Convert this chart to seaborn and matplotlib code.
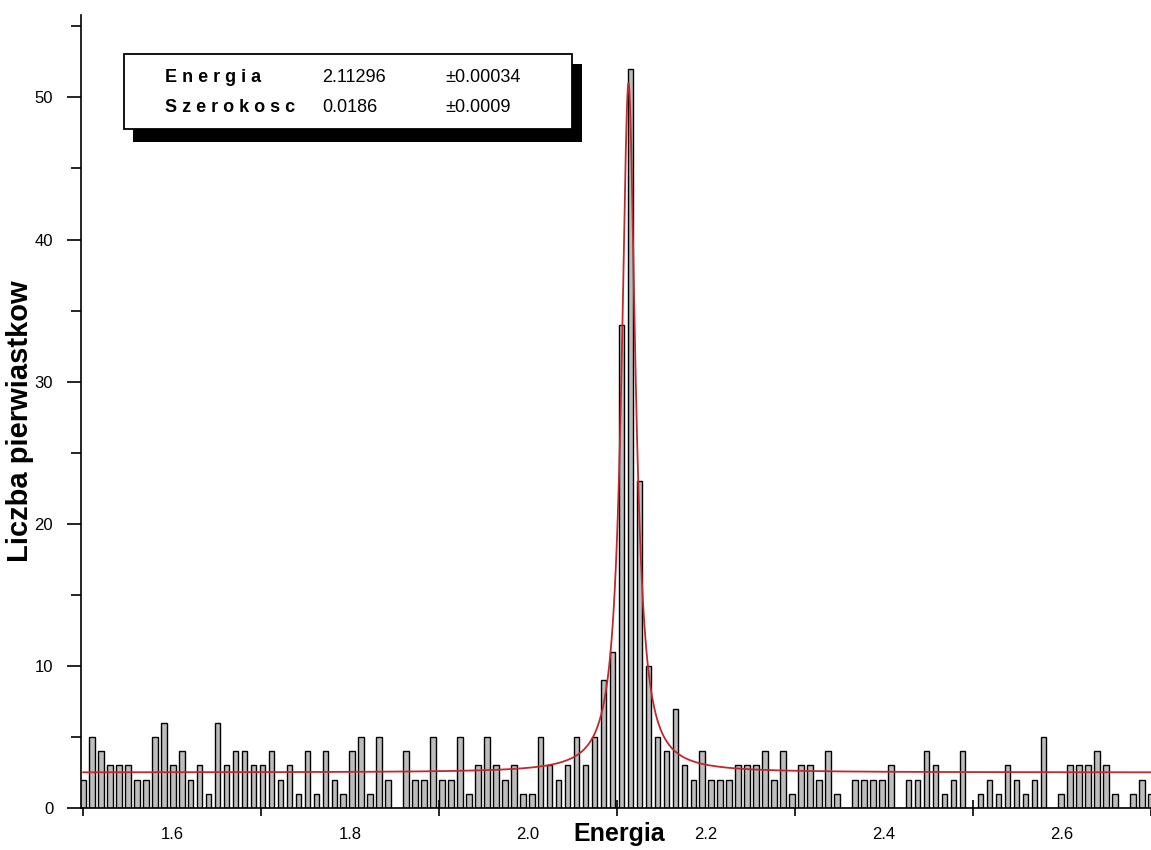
import numpy as np
import pandas as pd
import matplotlib
matplotlib.use("Agg")
import matplotlib.pyplot as plt
from matplotlib.patches import Rectangle
import seaborn as sns

# ---------------- data ----------------
bin_first = 1.5
bin_last = 2.7
counts = [2, 5, 4, 3, 3, 3, 2, 2, 5, 6, 3, 4, 2, 3, 1, 6, 3, 4, 4, 3, 3, 4, 2, 3, 1, 4, 1,
          4, 2, 1, 4, 5, 1, 5, 2, 0, 4, 2, 2, 5, 2, 2, 5, 1, 3, 5, 3, 2, 3, 1, 1, 5, 3, 2, 3, 5,
          3, 5, 9, 11, 34, 52, 23, 10, 5, 4, 7,
          3, 2, 4, 2, 2, 2, 3, 3, 3, 4, 2, 4, 1, 3, 3, 2, 4, 1, 0, 2, 2, 2, 2, 3, 0, 2, 2, 4, 3,
          1, 2, 4, 0, 1, 2, 1, 3, 2, 1, 2, 5, 0, 1, 3, 3, 3, 4, 3, 1, 0, 1, 2, 1]
energy = np.linspace(bin_first, bin_last, len(counts))

# Lorentz fit (parameters shown in the box)
fit_center = 2.11296
fit_center_err = 0.00034
fit_width = 0.0186
fit_width_err = 0.0009
fit_baseline = 2.5
fit_peak = 51.0

x_ticks = [1.5, 1.7, 1.9, 2.1, 2.3, 2.5, 2.7]
x_label_pos = [1.6, 1.8, 2.0, 2.2, 2.4, 2.6]
x_label_txt = ["1.6", "1.8", "2.0", "2.2", "2.4", "2.6"]
y_major = [0, 10, 20, 30, 40, 50]
y_minor = [5, 15, 25, 35, 45, 55]

# ---------------- figure ----------------
sns.set_theme(style="white")
plt.rcParams['font.family'] = ['Liberation Sans', 'DejaVu Sans']
plt.rcParams['text.color'] = 'black'
plt.rcParams['axes.labelcolor'] = 'black'
plt.rcParams['xtick.color'] = 'black'
plt.rcParams['ytick.color'] = 'black'

W, H = 1151, 850
fig = plt.figure(figsize=(W / 100, H / 100), dpi=100)
ax = fig.add_axes([81 / W, 1 - 808 / H, (1151 - 81) / W, (808 - 15) / H])

df = pd.DataFrame({"Energia": energy, "count": counts})
sns.barplot(data=df, x="Energia", y="count", native_scale=True, width=0.62,
            color="#bdbdbd", saturation=1, edgecolor="black", linewidth=1.0, ax=ax)

cx = np.linspace(bin_first, bin_last, 2000)
hw = fit_width / 2
cy = fit_baseline + (fit_peak - fit_baseline) * hw ** 2 / ((cx - fit_center) ** 2 + hw ** 2)
sns.lineplot(x=cx, y=cy, color="#c0282d", linewidth=1.3, ax=ax)

ax.set_xlim(1.5 - 2 / 891, 1.5 + 1070 / 891 - 2 / 891)
ax.set_ylim(0, 55.8)

for s in ["top", "right"]:
    ax.spines[s].set_visible(False)
for s in ["left", "bottom"]:
    ax.spines[s].set_color("black")
    ax.spines[s].set_linewidth(1.2)

ax.set_xticks(x_ticks)
ax.set_xticklabels([""] * len(x_ticks))
ax.set_xticks(x_label_pos, minor=True)
ax.set_xticklabels(x_label_txt, minor=True, fontsize=12)
ax.tick_params(axis="x", which="major", bottom=True, direction="inout", length=12, width=1.2, color="black")
ax.tick_params(axis="x", which="minor", bottom=True, length=0, pad=14, labelcolor="black")

ax.set_yticks(y_major)
ax.set_yticklabels([str(v) for v in y_major], fontsize=12)
ax.set_yticks(y_minor, minor=True)
ax.tick_params(axis="y", which="major", left=True, direction="out", length=10, width=1.2, color="black", pad=10, labelcolor="black")
ax.tick_params(axis="y", which="minor", left=True, direction="out", length=7, width=1.2, color="black")

ax.set_xlabel("Energia", fontsize=18, fontweight="bold", color="black")
ax.xaxis.set_label_coords((619 - 81) / 1070, (808 - 822) / 793)
ax.xaxis.label.set_va("top")
ax.set_ylabel("Liczba pierwiastkow", fontsize=21, fontweight="bold", color="black")
ax.yaxis.set_label_coords((20 - 81) / 1070, (808 - 421) / 793)
ax.yaxis.label.set_va("center")

# ---------------- parameter box ----------------
def fx(px):
    return px / W

def fy(py):
    return 1 - py / H

fig.patches.append(Rectangle((fx(133), fy(142)), fx(582) - fx(133), fy(64) - fy(142),
                             transform=fig.transFigure, facecolor="black", edgecolor="none", zorder=5))
fig.patches.append(Rectangle((fx(124), fy(129)), fx(572) - fx(124), fy(54) - fy(129),
                             transform=fig.transFigure, facecolor="white", edgecolor="black",
                             linewidth=1.3, zorder=6))

rows = [("E n e r g i a", f"{fit_center:.5f}", f"±{fit_center_err:.5f}", 77),
        ("S z e r o k o s c", f"{fit_width:.4f}", f"±{fit_width_err:.4f}", 108)]
for name, val, err, yy in rows:
    fig.text(fx(165), fy(yy), name, fontsize=13, fontweight="bold", va="center", ha="left", zorder=7)
    fig.text(fx(322), fy(yy), val, fontsize=13, va="center", ha="left", zorder=7)
    fig.text(fx(445), fy(yy), err, fontsize=13, va="center", ha="left", zorder=7)

fig.savefig("out.png", dpi=100)
